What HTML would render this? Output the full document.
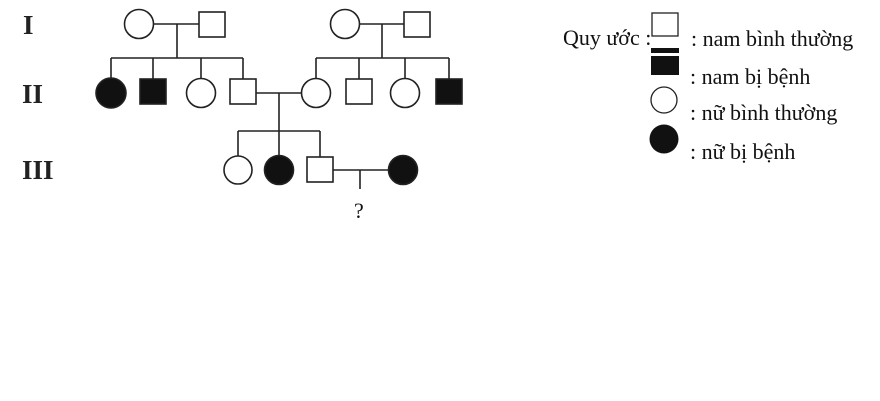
<!DOCTYPE html>
<html><head><meta charset="utf-8"><style>
html,body{margin:0;padding:0;background:#fff;width:880px;height:401px;overflow:hidden}
</style></head><body>
<svg width="880" height="401" viewBox="0 0 880 401" xmlns="http://www.w3.org/2000/svg">
<g font-family="Liberation Serif, serif" font-weight="bold" font-size="27" fill="#222">
<text x="23" y="34">I</text>
<text x="22" y="103">II</text>
<text x="22" y="179">III</text>
</g>
<g stroke="#222" stroke-width="1.6" fill="none">
<line x1="153" y1="24" x2="199" y2="24"/>
<line x1="177" y1="24" x2="177" y2="58"/>
<line x1="111" y1="58" x2="243" y2="58"/>
<line x1="111" y1="58" x2="111" y2="78"/>
<line x1="153" y1="58" x2="153" y2="79"/>
<line x1="201" y1="58" x2="201" y2="78"/>
<line x1="243" y1="58" x2="243" y2="79"/>
<line x1="359" y1="24" x2="404" y2="24"/>
<line x1="382" y1="24" x2="382" y2="58"/>
<line x1="316" y1="58" x2="449" y2="58"/>
<line x1="316" y1="58" x2="316" y2="78"/>
<line x1="359" y1="58" x2="359" y2="79"/>
<line x1="405" y1="58" x2="405" y2="78"/>
<line x1="449" y1="58" x2="449" y2="79"/>
<line x1="256" y1="93" x2="301" y2="93"/>
<line x1="279" y1="93" x2="279" y2="131"/>
<line x1="238" y1="131" x2="320" y2="131"/>
<line x1="238" y1="131" x2="238" y2="156"/>
<line x1="279" y1="131" x2="279" y2="156"/>
<line x1="320" y1="131" x2="320" y2="157"/>
<line x1="332" y1="170" x2="389" y2="170"/>
<line x1="360" y1="170" x2="360" y2="189"/>
<circle cx="139" cy="24" r="14.5" fill="#fff"/>
<rect x="199" y="12" width="26" height="25" fill="#fff"/>
<circle cx="345" cy="24" r="14.5" fill="#fff"/>
<rect x="404" y="12" width="26" height="25" fill="#fff"/>
<circle cx="111" cy="93" r="15" fill="#111"/>
<rect x="140" y="79" width="26" height="25" fill="#111"/>
<circle cx="201" cy="93" r="14.5" fill="#fff"/>
<rect x="230" y="79" width="26" height="25" fill="#fff"/>
<circle cx="316" cy="93" r="14.5" fill="#fff"/>
<rect x="346" y="79" width="26" height="25" fill="#fff"/>
<circle cx="405" cy="93" r="14.5" fill="#fff"/>
<rect x="436" y="79" width="26" height="25" fill="#111"/>
<circle cx="238" cy="170" r="14" fill="#fff"/>
<circle cx="279" cy="170" r="14.5" fill="#111"/>
<rect x="307" y="157" width="26" height="25" fill="#fff"/>
<circle cx="403" cy="170" r="14.5" fill="#111"/>
<rect x="652" y="13" width="26" height="23" fill="#fff" stroke-width="1.3"/>
<circle cx="664" cy="100" r="13" fill="#fff" stroke-width="1.3"/>
</g>
<rect x="651" y="48" width="28" height="5" fill="#111"/>
<rect x="651" y="56" width="28" height="19" fill="#111"/>
<circle cx="664" cy="139" r="14.5" fill="#111"/>
<g font-family="Liberation Serif, serif" font-size="22" fill="#111">
<text x="354" y="218">?</text>
<text x="563" y="45">Quy ước :</text>
<text x="691" y="46">: nam bình thường</text>
<text x="690" y="84">: nam bị bệnh</text>
<text x="690" y="120">: nữ bình thường</text>
<text x="690" y="159">: nữ bị bệnh</text>
</g>
</svg>
</body></html>
